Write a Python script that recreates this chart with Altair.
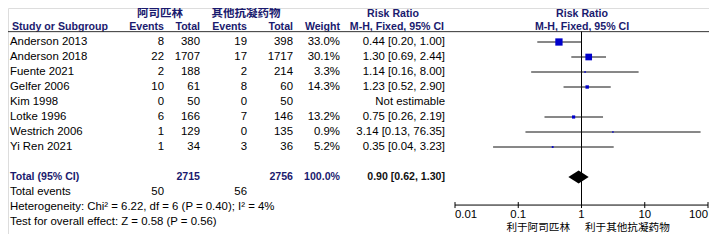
import altair as alt
import pandas as pd

# ---------------- data ----------------
studies = ["Anderson 2013", "Anderson 2018", "Fuente 2021", "Gelfer 2006",
           "Kim 1998", "Lotke 1996", "Westrich 2006", "Yi Ren 2021"]
asp_events = [8, 22, 2, 10, 0, 6, 1, 1]
asp_total = [380, 1707, 188, 61, 50, 166, 129, 34]
oth_events = [19, 17, 2, 8, 0, 7, 0, 3]
oth_total = [398, 1717, 214, 60, 50, 146, 135, 36]
weights = [33.0, 30.1, 3.3, 14.3, None, 13.2, 0.9, 5.2]
rr = [0.44, 1.30, 1.14, 1.23, None, 0.75, 3.14, 0.35]
rr_lo = [0.20, 0.69, 0.16, 0.52, None, 0.26, 0.13, 0.04]
rr_hi = [1.00, 2.44, 8.00, 2.90, None, 2.19, 76.35, 3.23]

total_asp = 2715
total_oth = 2756
total_weight = "100.0%"
events_asp = 50
events_oth = 56
pooled = [0.62, 0.90, 1.30]  # lower, estimate, upper
heterogeneity = "Heterogeneity: Chi² = 6.22, df = 6 (P = 0.40); I² = 4%"
overall = "Test for overall effect: Z = 0.58 (P = 0.56)"
axis_ticks = [0.01, 0.1, 1, 10, 100]
axis_labels = ["0.01", "0.1", "1", "10", "100"]
grp1 = "阿司匹林"
grp2 = "其他抗凝药物"
fav_left = "利于阿司匹林"
fav_right = "利于其他抗凝药物"

# ---------------- styles ----------------
FONT = "Liberation Sans, Arial, Noto Sans CJK SC, sans-serif"
FS = 11.4
FSB = 10.6
NAVY = "#1a1a6e"

yscale = alt.Scale(domain=[-2, 12.6], range=[4, 223], zero=False, nice=False)
xscale = alt.Scale(type="log", domain=[0.01, 100], range=[447, 700], nice=False)


def Y(field="row"):
    return alt.Y(f"{field}:Q", scale=yscale, axis=None)


def text_layer(rows, texts, x, align, weight="normal", color="black", size=FS):
    df = pd.DataFrame({"row": rows, "t": texts})
    return alt.Chart(df).mark_text(
        align=align, baseline="middle", font=FONT, fontSize=size,
        fontWeight=weight, color=color
    ).encode(x=alt.value(x), y=Y(), text="t:N")


idx = list(range(len(studies)))
HROW = -1.88

layers = []
# headers
layers.append(text_layer([HROW], [grp1], 152, "center", "bold", NAVY, 11.5))
layers.append(text_layer([HROW], [grp2], 238, "center", "bold", NAVY, 11.5))
layers.append(text_layer([HROW], ["Risk Ratio"], 385, "center", "bold", NAVY, FSB))
layers.append(text_layer([HROW], ["Risk Ratio"], 574, "center", "bold", NAVY, FSB))
layers.append(text_layer([-1], ["Study or Subgroup"], 4, "left", "bold", NAVY, FSB))
for lab, xp in [("Events", 156), ("Total", 192), ("Events", 239), ("Total", 285),
                ("Weight", 332), ("M-H, Fixed, 95% CI", 436)]:
    layers.append(text_layer([-1], [lab], xp, "right", "bold", NAVY, FSB))
layers.append(text_layer([-1], ["M-H, Fixed, 95% CI"], 574, "center", "bold", NAVY, FSB))

# study rows
layers.append(text_layer(idx, studies, 2, "left"))
layers.append(text_layer(idx, [str(v) for v in asp_events], 156, "right"))
layers.append(text_layer(idx, [str(v) for v in asp_total], 192, "right"))
layers.append(text_layer(idx, [str(v) for v in oth_events], 239, "right"))
layers.append(text_layer(idx, [str(v) for v in oth_total], 285, "right"))
layers.append(text_layer(idx, ["" if w is None else f"{w:.1f}%" for w in weights], 332, "right"))
rr_text = ["Not estimable" if r is None else f"{r:.2f} [{l:.2f}, {h:.2f}]"
           for r, l, h in zip(rr, rr_lo, rr_hi)]
layers.append(text_layer(idx, rr_text, 437, "right"))

# total rows
layers.append(text_layer([9], ["Total (95% CI)"], 2, "left", "bold", NAVY, FSB))
layers.append(text_layer([9], [str(total_asp)], 192, "right", "bold", NAVY, FSB))
layers.append(text_layer([9], [str(total_oth)], 285, "right", "bold", NAVY, FSB))
layers.append(text_layer([9], [total_weight], 332, "right", "bold", NAVY, FSB))
layers.append(text_layer([9], [f"{pooled[1]:.2f} [{pooled[0]:.2f}, {pooled[2]:.2f}]"],
                         437, "right", "bold", "#111111", FSB))
layers.append(text_layer([10, 11, 12], ["Total events", heterogeneity, overall], 2, "left"))
layers.append(text_layer([10], [str(events_asp)], 156, "right"))
layers.append(text_layer([10], [str(events_oth)], 239, "right"))

# header separator line
sep = pd.DataFrame({"row": [-0.69]})
layers.append(alt.Chart(sep).mark_rule(color="#333333", strokeWidth=1).encode(
    x=alt.value(0), x2=alt.value(701), y=Y()))

# forest plot
study_df = pd.DataFrame({"row": idx, "rr": rr, "lo": rr_lo, "hi": rr_hi, "w": weights}).dropna()

vline = pd.DataFrame({"x": [1.0], "y1": [-0.69], "y2": [10.87]})
layers.append(alt.Chart(vline).mark_rule(color="black", strokeWidth=1).encode(
    x=alt.X("x:Q", scale=xscale, axis=None),
    y=alt.Y("y1:Q", scale=yscale, axis=None), y2="y2:Q"))

layers.append(alt.Chart(study_df).mark_rule(color="#111111", strokeWidth=1).encode(
    x=alt.X("lo:Q", scale=xscale, axis=None), x2="hi:Q", y=Y()))

layers.append(alt.Chart(study_df).mark_square(filled=True, color="#0000CC", opacity=1).encode(
    x=alt.X("rr:Q", scale=xscale, axis=None), y=Y(),
    size=alt.Size("w:Q", scale=alt.Scale(type="pow", exponent=2, domain=[0, 33], range=[2, 53]),
                  legend=None)))

diamond = pd.DataFrame({"x": pooled, "y1": [9, 9 - 0.43, 9], "y2": [9, 9 + 0.43, 9]})
layers.append(alt.Chart(diamond).mark_area(color="black", orient="vertical",
                                           interpolate="linear").encode(
    x=alt.X("x:Q", scale=xscale, axis=None),
    y=alt.Y("y1:Q", scale=yscale, axis=None), y2="y2:Q"))

# x axis: domain line, crossing ticks, labels (all through the log scale)
dom = pd.DataFrame({"a": [axis_ticks[0]], "b": [axis_ticks[-1]], "row": [10.87]})
layers.append(alt.Chart(dom).mark_rule(color="black", strokeWidth=1).encode(
    x=alt.X("a:Q", scale=xscale, axis=None), x2="b:Q", y=Y()))

ticks_df = pd.DataFrame({"v": axis_ticks, "y1": [10.67] * 5, "y2": [11.07] * 5})
layers.append(alt.Chart(ticks_df).mark_rule(color="black", strokeWidth=1).encode(
    x=alt.X("v:Q", scale=xscale, axis=None),
    y=alt.Y("y1:Q", scale=yscale, axis=None), y2="y2:Q"))

lab_df = pd.DataFrame({"v": axis_ticks, "t": axis_labels, "row": [11.55] * 5})
for sel, al in [(slice(0, 1), "left"), (slice(1, 4), "center"), (slice(4, 5), "right")]:
    layers.append(alt.Chart(lab_df.iloc[sel]).mark_text(
        align=al, baseline="middle", font=FONT, fontSize=FS, color="black").encode(
        x=alt.X("v:Q", scale=xscale, axis=None), y=Y(), text="t:N"))

layers.append(text_layer([12.42], [fav_left], 562, "right", "normal", "black", 10.6))
layers.append(text_layer([12.42], [fav_right], 577, "left", "normal", "black", 10.6))

chart = alt.layer(*layers).properties(
    width=701, height=226, padding=0,
    autosize=alt.AutoSizeParams(type="none")
).configure_view(stroke=None).configure(background="white")

chart.save("out.html", embed_options={"renderer": "svg", "actions": False})
